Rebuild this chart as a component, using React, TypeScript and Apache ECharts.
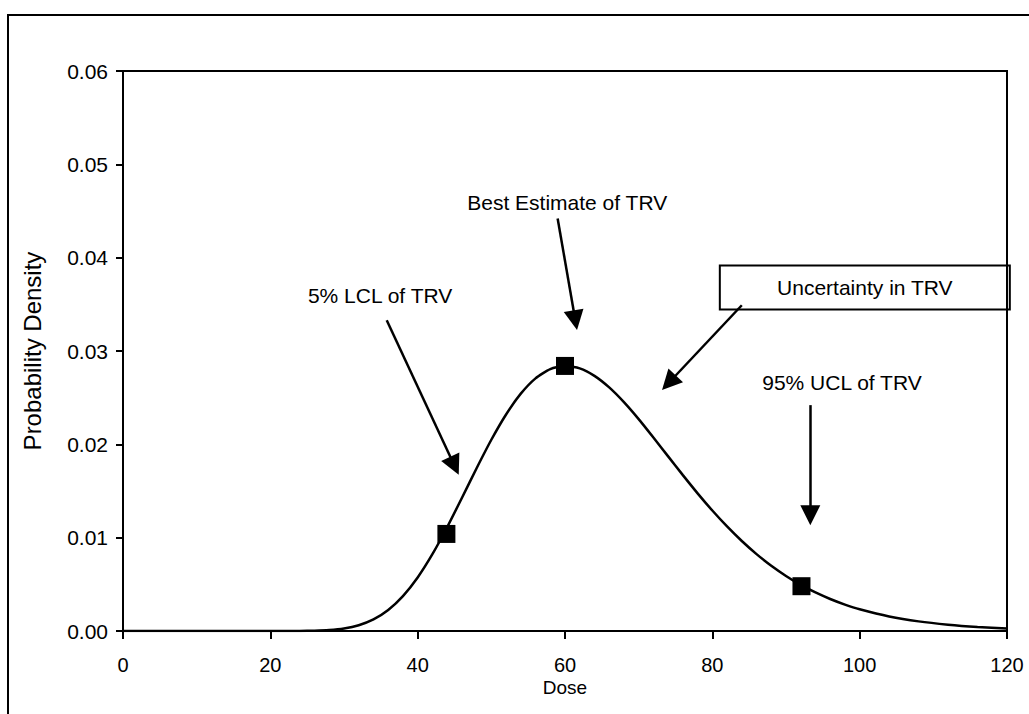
import React, { useEffect, useRef } from "react";
import * as echarts from "echarts";

// Curve (dose vs probability density)
const doses = [0, 20, 24, 26, 28, 30, 32, 34, 36, 38, 40, 42, 44, 46, 48, 50, 52, 54, 56, 58, 60, 62, 64, 66, 68, 70, 72, 74, 76, 78, 80, 82, 84, 86, 88, 90, 92, 94, 96, 98, 100, 104, 108, 112, 116, 120];
const densities = [0, 0, 0.00001, 0.00003, 0.0001, 0.00027, 0.00062, 0.00124, 0.00225, 0.00374, 0.00574, 0.00823, 0.01112, 0.01425, 0.01744, 0.02049, 0.0232, 0.02543, 0.02707, 0.02806, 0.0284, 0.02814, 0.02734, 0.0261, 0.02452, 0.0227, 0.02073, 0.01871, 0.0167, 0.01475, 0.01291, 0.0112, 0.00964, 0.00824, 0.00699, 0.0059, 0.00494, 0.00413, 0.00343, 0.00283, 0.00233, 0.00156, 0.00103, 0.00068, 0.00044, 0.00028];

// Square markers: 5% LCL, best estimate, 95% UCL
const markerDose = [43.9, 60.0, 92.1];
const markerDensity = [0.0104, 0.0284, 0.0048];

// Annotation texts and their anchor points (data coords)
const annotationTexts = ["5% LCL of TRV", "Best Estimate of TRV", "Uncertainty in TRV", "95% UCL of TRV"];
const annotationDose = [34.9, 60.3, 100.7, 97.6];
const annotationDensity = [0.036, 0.0459, 0.0368, 0.0266];

// Arrows: start -> head centre (data coords)
const arrowFromDose = [35.8, 59.0, 84.0, 93.3];
const arrowFromDensity = [0.0333, 0.0442, 0.0349, 0.0242];
const arrowToDose = [45.0, 61.4, 74.1, 93.3];
const arrowToDensity = [0.0177, 0.0333, 0.0266, 0.0124];

const xTicks = [0, 20, 40, 60, 80, 100, 120];
const yTicks = [0, 0.01, 0.02, 0.03, 0.04, 0.05, 0.06];

const FONT = "'Liberation Sans', Arial, sans-serif";

export default function App() {
  const ref = useRef<HTMLDivElement>(null);
  useEffect(() => {
    if (!ref.current) return;
    const chart = echarts.init(ref.current, undefined, { renderer: "svg" });
    const curve = doses.map((d, i) => [d, densities[i]]);
    const markers = markerDose.map((d, i) => [d, markerDensity[i]]);
    const arrows = arrowFromDose.map((d, i) => [
      { coord: [d, arrowFromDensity[i]] },
      { coord: [arrowToDose[i], arrowToDensity[i]] },
    ]);
    const labels = annotationTexts.map((t, i) => {
      const isBox = i === 2;
      return {
        value: [annotationDose[i], annotationDensity[i]],
        label: {
          show: true,
          position: "inside",
          formatter: t,
          color: "#000",
          opacity: 1,
          fontSize: 21,
          fontFamily: FONT,
          ...(isBox
            ? {
                width: 290,
                height: 44,
                lineHeight: 44,
                align: "center",
                verticalAlign: "middle",
                borderColor: "#000",
                borderWidth: 2,
                padding: 0,
              }
            : {}),
        },
      };
    });
    chart.setOption({
      animation: false,
      backgroundColor: "#fff",
      grid: {
        left: 123,
        right: 22,
        top: 71,
        bottom: 83,
        show: true,
        borderColor: "#000",
        borderWidth: 2,
        backgroundColor: "transparent",
      },
      graphic: [
        {
          type: "rect",
          shape: { x: 8, y: 15, width: 1040, height: 720 },
          style: { fill: "none", stroke: "#000", lineWidth: 2 },
          silent: true,
        },
      ],
      xAxis: {
        type: "value",
        min: xTicks[0],
        max: xTicks[xTicks.length - 1],
        interval: 20,
        name: "Dose",
        nameLocation: "middle",
        nameGap: 47,
        nameMoveOverlap: false,
        nameTextStyle: { color: "#000", fontSize: 19, fontFamily: FONT },
        axisLine: { show: true, lineStyle: { color: "#000", width: 2 } },
        axisTick: { show: true, length: 8, lineStyle: { color: "#000", width: 2 } },
        axisLabel: { color: "#000", fontSize: 20, fontFamily: FONT, margin: 24 },
        splitLine: { show: false },
      },
      yAxis: {
        type: "value",
        min: yTicks[0],
        max: yTicks[yTicks.length - 1],
        interval: 0.01,
        name: "Probability Density",
        nameLocation: "middle",
        nameGap: 79,
        nameTextStyle: { color: "#000", fontSize: 24, fontFamily: FONT },
        axisLine: { show: true, lineStyle: { color: "#000", width: 2 } },
        axisTick: { show: true, length: 7, lineStyle: { color: "#000", width: 2 } },
        axisLabel: {
          color: "#000",
          fontSize: 21,
          fontFamily: FONT,
          margin: 15,
          formatter: (v: number) => v.toFixed(2),
        },
        splitLine: { show: false },
      },
      series: [
        {
          type: "line",
          data: curve,
          showSymbol: false,
          smooth: 0.2,
          lineStyle: { color: "#000", width: 2.5 },
          silent: true,
          markLine: {
            silent: true,
            symbol: ["none", "triangle"],
            symbolSize: 20,
            label: { show: false },
            itemStyle: { color: "#000", opacity: 1 },
            lineStyle: { color: "#000", width: 2.5, type: "solid", opacity: 1 },
            emphasis: { disabled: true },
            data: arrows,
          },
        },
        {
          type: "scatter",
          data: markers,
          symbol: "rect",
          symbolSize: 18,
          itemStyle: { color: "#000", opacity: 1 },
          silent: true,
          z: 5,
        },
        {
          type: "scatter",
          data: labels,
          symbolSize: 1,
          itemStyle: { color: "rgba(0,0,0,0)", opacity: 1 },
          silent: true,
          z: 6,
        },
      ],
    });
    return () => chart.dispose();
  }, []);
  return (
    <div
      ref={ref}
      style={{ position: "fixed", left: 0, top: 0, width: 1029, height: 714 }}
    />
  );
}
